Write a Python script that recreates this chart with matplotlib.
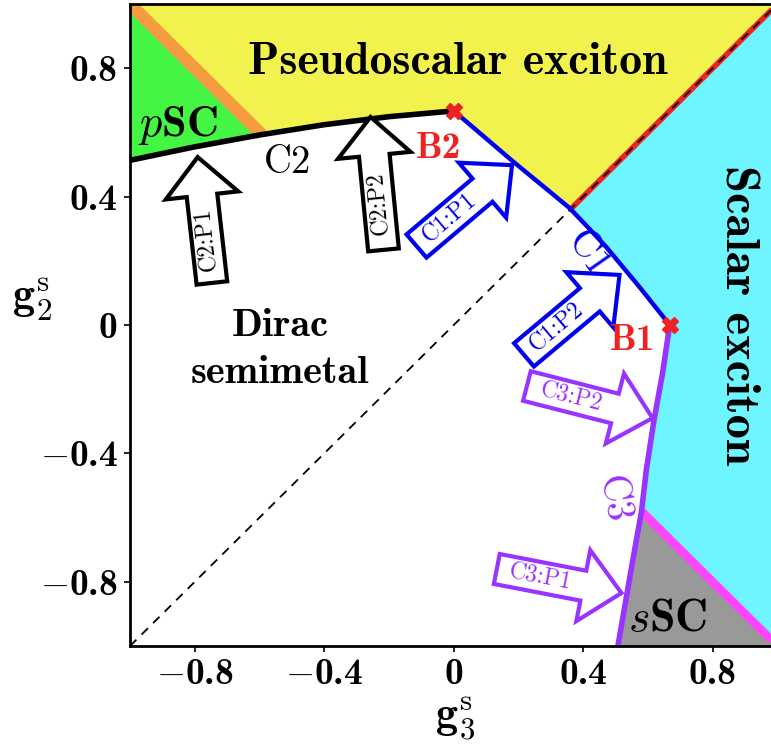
import numpy as np
import matplotlib
matplotlib.use("Agg")
import matplotlib.pyplot as plt
from matplotlib.patches import FancyArrow

plt.rcParams['mathtext.fontset'] = 'cm'
RM = 'cmr10'
BF = 'cmb10'

c2_x = np.array([-1.0, -0.8, -0.6, -0.4, -0.2, 0.0])
c2_y = np.array([0.513, 0.555, 0.592, 0.624, 0.649, 0.667])

c1_x = np.array([0.0, 0.078, 0.180, 0.285, 0.357, 0.412, 0.471, 0.574, 0.667])
c1_y = np.array([0.667, 0.600, 0.512, 0.425, 0.365, 0.307, 0.243, 0.118, 0.0])

c3_x = np.array([0.667, 0.645, 0.618, 0.595, 0.580, 0.550, 0.507])
c3_y = np.array([0.0, -0.15, -0.30, -0.45, -0.58, -0.75, -1.0])

b_x = [0.0, 0.667]
b_y = [0.667, 0.0]
b_names = ['B2', 'B1']

ticks = [-0.8, -0.4, 0, 0.4, 0.8]
tick_labels = ['$-$0.8', '$-$0.4', '0', '0.4', '0.8']

# path arrows: label, tail, tip, colour
arrow_labels = ['C2:P1', 'C2:P2', 'C1:P1', 'C1:P2', 'C3:P2', 'C3:P1']
arrow_tails = [(-0.747, 0.131), (-0.217, 0.234), (-0.115, 0.246), (0.217, -0.093), (0.226, -0.190), (0.133, -0.760)]
arrow_tips = [(-0.791, 0.523), (-0.257, 0.648), (0.180, 0.498), (0.512, 0.156), (0.614, -0.290), (0.518, -0.835)]
arrow_colors = ['black', 'black', '#0000ee', '#0000ee', '#9933ff', '#9933ff']

yellow = '#f2f24e'
cyan = '#6ef5ff'
green = '#44f544'
gray = '#999999'
orange = '#f59c42'
magenta = '#ff44ff'
red = '#ee2222'
blue = '#0000ee'
purple = '#9933ff'

# crossings with the diagonals
x_or = np.interp(0, c2_y + c2_x, c2_x)
d1 = c1_y - c1_x
x_red = np.interp(0, d1[::-1], c1_x[::-1])
d3 = c3_x + c3_y
y_mag = np.interp(0, d3[::-1], c3_y[::-1])

fig = plt.figure(figsize=(7.71, 7.49), dpi=100)
ax = fig.add_axes([130 / 771, 103 / 749, 647.5 / 771, 642 / 749])
ax.set_xlim(-1, 1)
ax.set_ylim(-1, 1)

# yellow above C2 and C1
top_x = np.concatenate([c2_x, c1_x[1:], [1, -1]])
top_y = np.concatenate([c2_y, c1_y[1:], [1, 1]])
ax.fill(top_x, top_y, color=yellow, lw=0, zorder=1)

# pSC corner
m = c2_x < x_or
gx = np.concatenate([c2_x[m], [x_or, -1]])
gy = np.concatenate([c2_y[m], [-x_or, 1]])
ax.fill(gx, gy, color=green, lw=0, zorder=1)

# scalar exciton
m1 = c1_x > x_red
m3 = c3_y > y_mag
sx = np.concatenate([[1, x_red], c1_x[m1], c3_x[1:][m3[1:]], [-y_mag, 1]])
sy = np.concatenate([[1, x_red], c1_y[m1], c3_y[1:][m3[1:]], [y_mag, -1]])
ax.fill(sx, sy, color=cyan, lw=0, zorder=1)

# sSC corner
m3b = c3_y < y_mag
qx = np.concatenate([[-y_mag], c3_x[m3b], [1]])
qy = np.concatenate([[y_mag], c3_y[m3b], [-1]])
ax.fill(qx, qy, color=gray, lw=0, zorder=1)

# boundaries between ordered phases
ax.plot([x_or, -1], [-x_or, 1], color=orange, lw=9, solid_capstyle='butt', zorder=2)
ax.plot([-y_mag, 1], [y_mag, -1], color=magenta, lw=6, solid_capstyle='butt', zorder=2)
ax.plot([x_red, 1], [x_red, 1], color=red, lw=4, solid_capstyle='butt', zorder=2)
ax.plot([-1, 1], [-1, 1], color='black', lw=1.3, ls=(0, (5, 4)), zorder=3)

ax.plot(c2_x, c2_y, color='black', lw=4, solid_capstyle='round', zorder=4)
ax.plot(c1_x, c1_y, color=blue, lw=3.2, solid_capstyle='round', solid_joinstyle='round', zorder=4)
ax.plot(c3_x, c3_y, color=purple, lw=4, solid_capstyle='round', zorder=4)
ax.plot(b_x, b_y, ls='none', marker='X', ms=11, color=red, mec=red, zorder=6)

for lab, (tx, ty), (px, py), col in zip(arrow_labels, arrow_tails, arrow_tips, arrow_colors):
    dx, dy = px - tx, py - ty
    L = np.hypot(dx, dy)
    hl = 0.12
    arr = FancyArrow(tx, ty, dx, dy, width=0.095, head_width=0.225, head_length=hl,
                     length_includes_head=True, fc='white', ec=col, lw=3,
                     joinstyle='miter', zorder=5)
    ax.add_patch(arr)
    cx = tx + dx / L * (L - hl) / 2
    cy = ty + dy / L * (L - hl) / 2
    ang = np.degrees(np.arctan2(dy, dx))
    ax.text(cx, cy, lab, family=RM, color=col, fontsize=17,
            rotation=ang, rotation_mode='anchor', ha='center', va='center', zorder=6)

# phase names
ax.text(0.012, 0.819, 'Pseudoscalar exciton', family=BF, fontsize=33, ha='center', va='center', zorder=7)
ax.text(0.878, 0.03, 'Scalar exciton', family=BF, fontsize=35, rotation=-90,
        ha='center', va='center', zorder=7)
ax.text(-0.536, -0.077, 'Dirac\nsemimetal', family=BF, fontsize=29,
        ha='center', va='center', linespacing=1.45, zorder=7)
ax.text(-0.853, 0.623, '$p$SC', family=BF, fontsize=32, ha='center', va='center', zorder=7)
ax.text(0.66, -0.919, '$s$SC', family=BF, fontsize=33, ha='center', va='center', zorder=7)

# curve and point names
ax.text(-0.512, 0.505, 'C2', family=RM, fontsize=28, ha='center', va='center', zorder=7)
ax.text(0.412, 0.218, 'C1', family=RM, fontsize=28, color=blue, rotation=-55,
        ha='center', va='center', zorder=7)
ax.text(0.49, -0.545, 'C3', family=RM, fontsize=28, color=purple, rotation=-80,
        ha='center', va='center', zorder=7)
ax.text(-0.047, 0.551, b_names[0], family=BF, fontsize=27, color=red,
        ha='center', va='center', zorder=7)
ax.text(0.552, -0.047, b_names[1], family=BF, fontsize=27, color=red,
        ha='center', va='center', zorder=7)

ax.set_xticks(ticks)
ax.set_xticklabels(tick_labels, family=BF)
ax.set_yticks(ticks)
ax.set_yticklabels(tick_labels, family=BF)
ax.tick_params(labelsize=27, length=4, width=1.2, pad=5)
for s in ax.spines.values():
    s.set_linewidth(2)
    s.set_zorder(8)

ax.set_xlabel(r'$\mathbf{g}_{\mathrm{3}}^{\mathrm{s}}$', fontsize=32, va='center')
ax.xaxis.set_label_coords(0.502, -0.112)
ax.set_ylabel(r'$\mathbf{g}_{\mathrm{2}}^{\mathrm{s}}$', fontsize=32, rotation=0, ha='center', va='center')
ax.yaxis.set_label_coords(-0.151, 0.539)

fig.savefig('out.png', dpi=100)
